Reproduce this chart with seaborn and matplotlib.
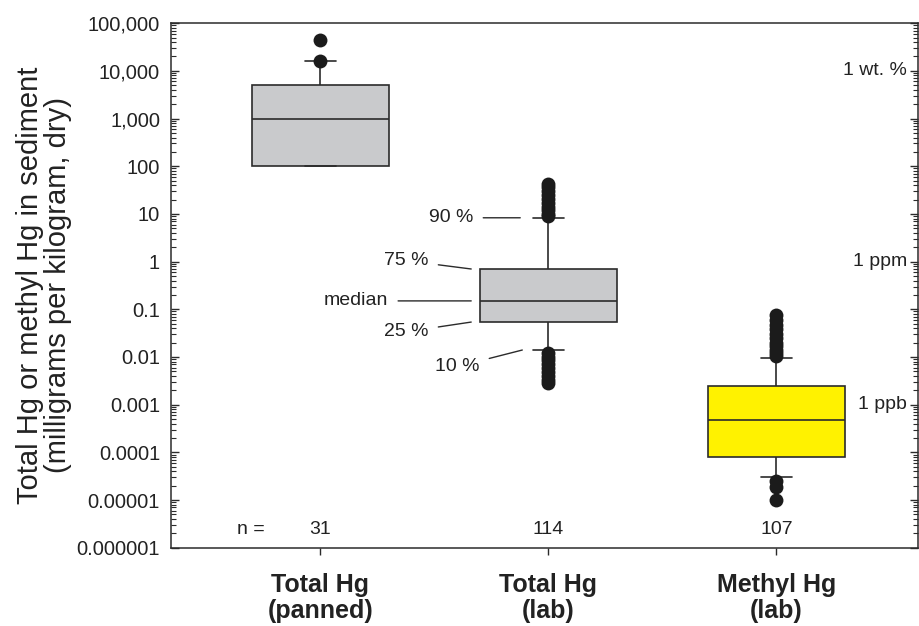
import numpy as np
import pandas as pd
import matplotlib.pyplot as plt
from matplotlib.ticker import LogLocator, NullFormatter
import seaborn as sns

# Box statistics (milligrams per kilogram, dry)
groups = ["Total Hg\n(panned)", "Total Hg\n(lab)", "Methyl Hg\n(lab)"]
p10 = [100, 0.014, 0.00003]
p25 = [100, 0.054, 0.000081]
p50 = [1000, 0.15, 0.00048]
p75 = [5000, 0.70, 0.0025]
p90 = [16000, 8.3, 0.0095]
n_counts = [31, 114, 107]

# Points beyond the 10th / 90th percentiles
out_panned = [16000, 44000]
out_total_lab = [42, 36, 30, 25, 21, 17, 14, 12, 10, 9,
                 0.012, 0.010, 0.0085, 0.007, 0.0058, 0.0048, 0.004, 0.0033, 0.0028]
out_methyl_lab = [0.076, 0.06, 0.048, 0.038, 0.03, 0.025, 0.02, 0.017, 0.014, 0.012, 0.0105,
                  0.000025, 0.000019, 0.00001]

ytick_values = [1e5, 1e4, 1e3, 1e2, 10, 1, 0.1, 0.01, 0.001, 0.0001, 0.00001, 0.000001]
ytick_labels = ["100,000", "10,000", "1,000", "100", "10", "1", "0.1", "0.01",
                "0.001", "0.0001", "0.00001", "0.000001"]
right_labels = ["1 wt. %", "1 ppm", "1 ppb"]
right_values = [1e4, 1, 0.001]
key_labels = ["90 %", "75 %", "median", "25 %", "10 %"]

box_colors = ["#c9cacc", "#c9cacc", "#fff200"]
edge = "#2b2b2b"
text_color = "#222222"

# five values per group: with whis=(0, 100) the whiskers end at p10 / p90
box_df = pd.DataFrame({
    "group": np.repeat(groups, 5),
    "value": np.ravel(np.column_stack([p10, p25, p50, p75, p90])),
})
out_df = pd.concat([
    pd.DataFrame({"group": g, "value": v})
    for g, v in zip(groups, [out_panned, out_total_lab, out_methyl_lab])
])

sns.set_style("ticks")
plt.rcParams["font.family"] = ["Liberation Sans", "DejaVu Sans"]

fig, ax = plt.subplots(figsize=(9.2, 6.26), dpi=100)
fig.subplots_adjust(left=0.186, right=0.998, bottom=0.125, top=0.963)

sns.boxplot(data=box_df, x="group", y="value", hue="group", order=groups,
            hue_order=groups, palette=box_colors, saturation=1, legend=False,
            width=0.6, whis=(0, 100), log_scale=True, linecolor=edge, linewidth=1.2,
            showfliers=False, capwidths=0.136, ax=ax)
sns.stripplot(data=out_df, x="group", y="value", order=groups, jitter=False,
              color="#1b1b1b", size=10, linewidth=0, zorder=3, ax=ax)

ax.set_xlim(-0.654, 2.622)
ax.set_ylim(1e-6, 1e5)
ax.set_yticks(ytick_values, labels=ytick_labels)
ax.yaxis.set_minor_locator(LogLocator(base=10, subs=np.arange(2, 10), numticks=100))
ax.yaxis.set_minor_formatter(NullFormatter())
ax.set_xticks(range(len(groups)), labels=groups)
for lab in ax.get_xticklabels():
    lab.set_fontweight("bold")
    lab.set_linespacing(1.12)

ax.tick_params(axis="y", which="both", direction="in", left=True, right=True,
               labelsize=14.5, labelcolor=text_color, color=edge, pad=8)
ax.tick_params(axis="y", which="major", length=6, width=1)
ax.tick_params(axis="y", which="minor", length=3.5, width=0.8)
ax.tick_params(axis="x", direction="out", length=5, width=1, color=edge,
               labelsize=18, labelcolor=text_color, pad=13, top=False)
for sp in ax.spines.values():
    sp.set_visible(True)
    sp.set_color(edge)
    sp.set_linewidth(1.1)

ax.set_xlabel("")
ax.set_ylabel("Total Hg or methyl Hg in sediment\n(milligrams per kilogram, dry)",
              fontsize=21, color=text_color, linespacing=1.0, labelpad=3)

# sample counts along the bottom
ax.text(-0.245, 0.034, "n =", transform=ax.get_xaxis_transform(), ha="right",
        va="center", fontsize=14, color=text_color)
for i, n in enumerate(n_counts):
    ax.text(i, 0.034, str(n), transform=ax.get_xaxis_transform(), ha="center",
            va="center", fontsize=14, color=text_color)

# unit labels inside the right axis
for lab, v in zip(right_labels, right_values):
    ax.annotate(lab, xy=(1, v), xycoords=("axes fraction", "data"),
                xytext=(-8, 0), textcoords="offset points", ha="right",
                va="center", fontsize=14, color=text_color)

# key to the box parts, drawn on the Total Hg (lab) box
key_xy = [(0.877, p90[1]), (0.662, p75[1]), (0.662, p50[1]), (0.662, p25[1]), (0.886, p10[1])]
key_off = [(-34, 0), (-31, 6), (-60, 0), (-31, -7), (-31, -12)]
for lab, xy, off in zip(key_labels, key_xy, key_off):
    ax.annotate(lab, xy=xy, xytext=off, textcoords="offset points", ha="right",
                va="center", fontsize=14, color=text_color,
                arrowprops=dict(arrowstyle="-", color=edge, lw=1,
                                shrinkA=5, shrinkB=0))

plt.savefig("out.png", dpi=100)
